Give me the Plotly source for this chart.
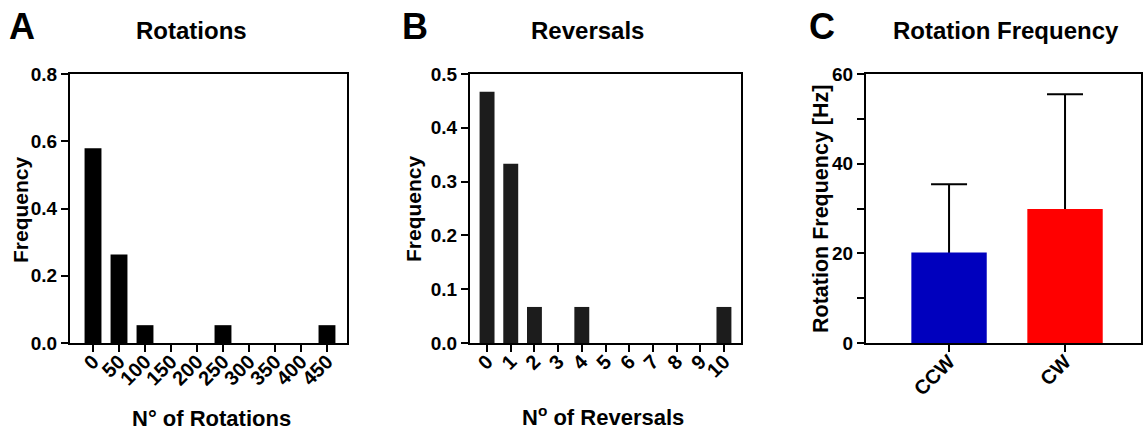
import plotly.graph_objects as go

# ---- data ----
rot_bins = ["0", "50", "100", "150", "200", "250", "300", "350", "400", "450"]
rot_freq = [0.579, 0.263, 0.053, 0.0, 0.0, 0.053, 0.0, 0.0, 0.0, 0.053]

rev_bins = ["0", "1", "2", "3", "4", "5", "6", "7", "8", "9", "10"]
rev_freq = [0.467, 0.333, 0.067, 0.0, 0.067, 0.0, 0.0, 0.0, 0.0, 0.0, 0.067]

dir_labels = ["CCW", "CW"]
dir_mean = [20.2, 29.9]
dir_sd = [15.2, 25.6]
dir_colors = ["#0000BE", "#FF0000"]

FONT = "Liberation Sans, Arial, sans-serif"
W, H = 1143, 430

fig = go.Figure()
fig.add_trace(go.Bar(x=rot_bins, y=rot_freq, width=0.65, marker=dict(color="#000000", line=dict(width=0)),
                     xaxis="x", yaxis="y"))
fig.add_trace(go.Bar(x=rev_bins, y=rev_freq, width=0.63, marker=dict(color="#1c1c1c", line=dict(width=0)),
                     xaxis="x2", yaxis="y2"))
# error bars (drawn on base subplot, bars overlay them so only the upper part shows)
fig.add_trace(go.Scatter(x=dir_labels, y=dir_mean, mode="markers", marker=dict(size=0.1, opacity=0),
                         error_y=dict(type="data", array=dir_sd, arrayminus=dir_mean, symmetric=False,
                                      color="#000000", thickness=2, width=18),
                         xaxis="x3", yaxis="y3"))
fig.add_trace(go.Bar(x=dir_labels, y=dir_mean, width=0.65, marker=dict(color=dir_colors, line=dict(width=0)),
                     xaxis="x4", yaxis="y4"))

ydom = [1 - 343 / H, 1 - 74 / H]
axis_common = dict(showline=True, linewidth=2, linecolor="#000000", mirror=True,
                   ticks="outside", tickwidth=2, tickcolor="#000000", ticklen=7,
                   showgrid=False, zeroline=False, automargin=False)
yfont = dict(tickfont=dict(family=FONT, size=19, color="#000000", weight="bold"))
xextra = dict(tickangle=-45, ticklabelstandoff=-10, tickmode="array",
              tickfont=dict(family=FONT, size=20, color="#000000", weight="bold"))

fig.update_layout(
    template="none",
    width=W, height=H, margin=dict(l=0, r=0, t=0, b=0, pad=0),
    paper_bgcolor="white", plot_bgcolor="rgba(0,0,0,0)", showlegend=False,
    xaxis=dict(domain=[70 / W, 347 / W], anchor="y", type="category", range=[-0.885, 9.77],
               tickvals=rot_bins, ticktext=rot_bins, **xextra, **axis_common),
    yaxis=dict(domain=ydom, anchor="x", range=[0, 0.8], tickvals=[0, 0.2, 0.4, 0.6, 0.8],
               tickformat=".1f", **yfont, **axis_common),
    xaxis2=dict(domain=[470 / W, 741 / W], anchor="y2", type="category", range=[-0.72, 10.72],
                tickvals=rev_bins, ticktext=rev_bins, **xextra, **axis_common),
    yaxis2=dict(domain=ydom, anchor="x2", range=[0, 0.5], tickvals=[0, 0.1, 0.2, 0.3, 0.4, 0.5],
                tickformat=".1f", **yfont, **axis_common),
    xaxis3=dict(domain=[866 / W, 1141 / W], anchor="y3", type="category", range=[-0.716, 1.655],
                tickvals=dir_labels, ticktext=dir_labels, **xextra, **axis_common),
    yaxis3=dict(domain=ydom, anchor="x3", range=[0, 60], tickvals=[0, 20, 40, 60],
                minor=dict(tickvals=[10, 30, 50], ticks="outside", ticklen=7, tickwidth=2, tickcolor="#000000"),
                **yfont, **axis_common),
    xaxis4=dict(overlaying="x3", anchor="y4", type="category", range=[-0.716, 1.655],
                visible=False, showgrid=False, zeroline=False),
    yaxis4=dict(overlaying="y3", anchor="x4", range=[0, 60], visible=False,
                showgrid=False, zeroline=False),
)

def ann(text, x, y, size, angle=0):
    fig.add_annotation(text=text, x=x / W, y=1 - y / H, xref="paper", yref="paper",
                       xanchor="center", yanchor="middle", showarrow=False, textangle=angle,
                       font=dict(family=FONT, size=size, color="#000000", weight="bold"))

# panel letters
ann("A", 22, 27, 36)
ann("B", 415, 27, 36)
ann("C", 822, 27, 36)
# titles
ann("Rotations", 191, 31, 24)
ann("Reversals", 587, 31, 24)
ann("Rotation Frequency", 1006, 31, 24)
# x titles
ann("N° of Rotations", 211, 418, 22)
ann("N<sup>o</sup> of Reversals", 603, 416, 22)
# y titles
ann("Frequency", 20, 210, 21, -90)
ann("Frequency", 414, 209, 21, -90)
ann("Rotation Frequency [Hz]", 821, 209, 21.5, -90)

fig.write_html("out.html", config={"displayModeBar": False},
               post_script="document.body.style.margin='0px';")
